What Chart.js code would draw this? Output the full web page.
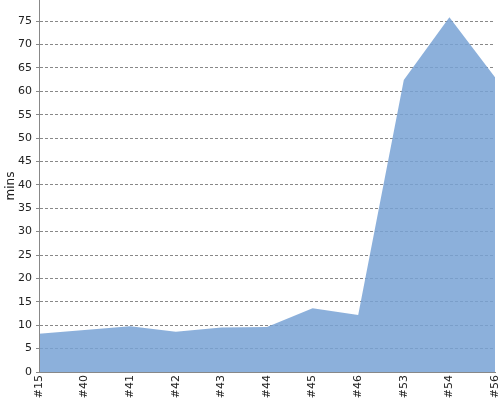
<!DOCTYPE html>
<html>
<head>
<meta charset="utf-8">
<style>
  html, body { margin: 0; padding: 0; background: #fff; }
  #wrap { width: 500px; height: 400px; position: relative; }
</style>
<script src="https://cdn.jsdelivr.net/npm/chart.js@4/dist/chart.umd.min.js"></script>
</head>
<body>
<div id="wrap"><canvas id="c"></canvas></div>
<script>
"use strict";

// builds in order, duration in minutes
const builds = ["#15", "#40", "#41", "#42", "#43", "#44", "#45", "#46", "#53", "#54", "#56"];
const mins = [8.2, 9.0, 9.8, 8.6, 9.5, 9.6, 13.6, 12.2, 62.4, 75.8, 63.0];

const yMax = 79.5;
const yStep = 5;

Chart.defaults.font.family = "'DejaVu Sans', sans-serif";
Chart.defaults.font.size = 11;
Chart.defaults.color = "#222";

new Chart(document.getElementById("c"), {
  type: "line",
  data: {
    labels: builds,
    datasets: [{
      data: mins,
      fill: "origin",
      backgroundColor: "rgba(120,162,213,0.85)",
      borderWidth: 0,
      pointRadius: 0,
      tension: 0,
    }],
  },
  options: {
    animation: false,
    responsive: true,
    maintainAspectRatio: false,
    layout: { padding: { top: 0, right: 5, bottom: 0, left: 0 } },
    plugins: { legend: { display: false }, tooltip: { enabled: false } },
    scales: {
      x: {
        offset: false,
        grid: { display: false, drawTicks: false },
        border: { color: "#888", width: 1 },
        ticks: { maxRotation: 90, minRotation: 90, autoSkip: false, padding: 3 },
        afterFit: (s) => { s.height = 28; s.paddingLeft = 0; s.paddingRight = 0; },
      },
      y: {
        min: 0,
        max: yMax,
        afterBuildTicks: (s) => { s.ticks = s.ticks.filter((t) => t.value % yStep === 0); },
        ticks: { stepSize: yStep, padding: 4 },
        grid: { color: "#888", tickLength: 3, tickBorderDash: [3, 2] },
        border: { color: "#888", width: 1, dash: [3, 2] },
        title: { display: true, text: "mins", padding: { top: 4, bottom: 0 }, font: { size: 12 } },
        afterFit: (s) => { s.width = 39; s.paddingTop = 0; s.paddingBottom = 0; },
      },
    },
  },
  plugins: [{
    // solid y axis line over the dashed grid border setting
    id: "axisLine",
    afterDraw(chart) {
      const { ctx, chartArea } = chart;
      ctx.save();
      ctx.strokeStyle = "#888";
      ctx.lineWidth = 1;
      ctx.beginPath();
      ctx.moveTo(chartArea.left + 0.5, 0);
      ctx.lineTo(chartArea.left + 0.5, chartArea.bottom);
      ctx.stroke();
      ctx.restore();
    },
  }],
});
</script>
</body>
</html>
